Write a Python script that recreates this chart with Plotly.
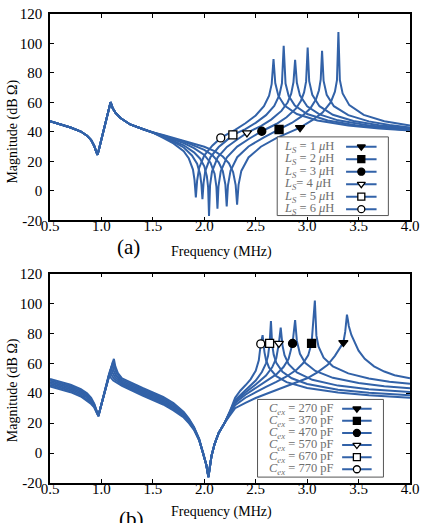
import plotly.graph_objects as go

FONT = "'Liberation Serif', 'Times New Roman', Times, serif"
BLUE = "#3262a8"

# ---------------- axis ticks ----------------
X_TICKS = [0.5, 1.0, 1.5, 2.0, 2.5, 3.0, 3.5, 4.0]
X_TICK_TEXT = ["0.5", "1.0", "1.5", "2.0", "2.5", "3.0", "3.5", "4.0"]
Y_TICKS = [-20, 0, 20, 40, 60, 80, 100, 120]
Y_TICK_TEXT = ["-20", "0", "20", "40", "60", "80", "100", "120"]

# ---------------- panel (a): (frequency MHz, magnitude dB) ----------------
TOP_COMMON = [(0.5, 47.3), (0.6, 45.3), (0.7, 43), (0.8, 40.3), (0.86, 37.5), (0.9, 34.5),
              (0.93, 30.5), (0.95, 26.5), (0.962, 24.5), (0.975, 28), (1.02, 41), (1.06, 52),
              (1.089, 60.2), (1.11, 56), (1.137, 53), (1.185, 49.5), (1.28, 45.1), (1.4, 42),
              (1.5, 39.6)]
LS1 = [(1.6, 38), (1.7, 36), (1.8, 34.3), (1.9, 32.1), (2.0, 30), (2.1, 27), (2.18, 23.4),
       (2.24, 18.7), (2.28, 12.8), (2.305, 4), (2.319, -9.3), (2.333, 4.1), (2.36, 13.6),
       (2.43, 22.7), (2.55, 30), (2.7, 35.8), (2.8, 39), (2.931, 43), (3.05, 48), (3.15, 53.2),
       (3.23, 60.2), (3.27, 67.3), (3.29, 75.1), (3.304, 107.8), (3.318, 75.2), (3.345, 66.1),
       (3.41, 58.2), (3.55, 51.6), (3.75, 47.3), (4.0, 44.4)]
LS2 = [(1.6, 37.6), (1.7, 35.5), (1.8, 33.5), (1.9, 30.8), (2.0, 27.9), (2.08, 24.2), (2.14, 19.5),
       (2.18, 13.5), (2.205, 4.4), (2.218, -10.4), (2.23, 3.7), (2.255, 13.6), (2.32, 22.9),
       (2.43, 30.2), (2.58, 36.4), (2.727, 41.7), (2.85, 46.1), (2.95, 50.7), (3.03, 55.9),
       (3.085, 62), (3.115, 68.3), (3.132, 75.6), (3.145, 95.1), (3.16, 74.6), (3.19, 65.2),
       (3.26, 57.5), (3.4, 51.4), (3.6, 47.2), (3.8, 44.8), (4.0, 43.1)]
LS3 = [(1.6, 37.3), (1.7, 35), (1.8, 32.5), (1.9, 29), (2.0, 24.4), (2.06, 19.2), (2.1, 11.7),
       (2.118, 2.8), (2.128, -12), (2.138, 3.1), (2.16, 13.3), (2.22, 22.9), (2.32, 30.1),
       (2.44, 35.6), (2.559, 40.5), (2.7, 45.4), (2.8, 50), (2.89, 55.8), (2.94, 61.2),
       (2.97, 66.8), (2.99, 74.3), (3.005, 97.3), (3.02, 74.5), (3.05, 65.2), (3.12, 57.5),
       (3.25, 51.7), (3.45, 47.4), (3.7, 44.5), (4.0, 42.3)]
LS4 = [(1.6, 37), (1.7, 34), (1.8, 31), (1.9, 26.2), (1.96, 21.9), (2.0, 16.7), (2.025, 10),
       (2.037, 2.7), (2.046, -17), (2.056, 3.8), (2.075, 13.2), (2.13, 22.8), (2.22, 29.9),
       (2.32, 34.9), (2.415, 39.4), (2.55, 44), (2.65, 48.4), (2.75, 54.3), (2.81, 60),
       (2.845, 66), (2.867, 73.7), (2.883, 88.9), (2.9, 73.4), (2.93, 64.8), (3.0, 57.4),
       (3.12, 51.9), (3.3, 47.9), (3.6, 44.4), (4.0, 41.7)]
LS5 = [(1.6, 36.5), (1.7, 33.3), (1.8, 29.5), (1.88, 24.1), (1.93, 18.5), (1.96, 11.2),
       (1.972, 4.4), (1.982, -5.5), (1.993, 5.5), (2.01, 13.7), (2.06, 23), (2.14, 29.8),
       (2.2, 33.3), (2.278, 38), (2.4, 42), (2.5, 46.2), (2.6, 51.4), (2.68, 57.7), (2.73, 64.9),
       (2.755, 73), (2.772, 98.4), (2.79, 72.8), (2.82, 64.5), (2.88, 57.9), (3.0, 52.2),
       (3.2, 47.8), (3.5, 44.3), (4.0, 41.2)]
LS6 = [(1.6, 36), (1.7, 32.3), (1.8, 27), (1.85, 22), (1.89, 14.5), (1.905, 7.5), (1.918, -4.4),
       (1.93, 6.8), (1.95, 15.6), (2.0, 24.2), (2.08, 30.9), (2.16, 36), (2.3, 41.5), (2.4, 45.9),
       (2.5, 51.2), (2.58, 57.5), (2.63, 64.6), (2.655, 72.4), (2.673, 89.5), (2.69, 73.2),
       (2.72, 64.6), (2.78, 57.9), (2.9, 52.2), (3.1, 47.8), (3.4, 44.4), (3.7, 42.3), (4.0, 41)]
LS_LABELS = ["<i>L<sub>S</sub></i> = 1 <i>μ</i>H", "<i>L<sub>S</sub></i> = 2 <i>μ</i>H",
             "<i>L<sub>S</sub></i> = 3 <i>μ</i>H", "<i>L<sub>S</sub></i>= 4 <i>μ</i>H",
             "<i>L<sub>S</sub></i> = 5 <i>μ</i>H", "<i>L<sub>S</sub></i> = 6 <i>μ</i>H"]
LS_MARK_F = [2.931, 2.727, 2.559, 2.415, 2.278, 2.16]
LS_MARK_DB = [43, 41.7, 40.5, 39.4, 38, 36]

# ---------------- panel (b) ----------------
CEX_DIP = [(1.99, 0), (2.02, -8), (2.04, -16), (2.055, -8), (2.07, -2), (2.1, 6), (2.14, 13.5),
           (2.2, 20.5)]
C270_LOW = [(0.5, 49.5), (0.6, 47.8), (0.7, 45.7), (0.8, 42.8), (0.86, 40), (0.9, 37), (0.93, 33),
            (0.955, 28), (0.971, 25.5), (0.99, 30), (1.03, 40.5), (1.07, 50.5), (1.1, 58),
            (1.121, 63), (1.135, 58), (1.16, 53.5), (1.2, 50), (1.3, 46.5), (1.4, 43.5),
            (1.5, 40.5), (1.6, 37.5), (1.7, 33.5), (1.8, 27.5), (1.85, 23), (1.9, 17.5), (1.95, 9.5)]
C270_HIGH = [(2.25, 25.5), (2.3, 30), (2.4, 33.5), (2.5, 36.8), (2.6, 39.5), (2.7, 42.2),
             (2.8, 44.8), (2.9, 47.3), (3.0, 50), (3.1, 54), (3.2, 59), (3.27, 65), (3.32, 70),
             (3.352, 73.9), (3.37, 81), (3.38, 88), (3.387, 92.6), (3.395, 89.5), (3.405, 85),
             (3.43, 79), (3.46, 74), (3.5, 68.5), (3.56, 63), (3.65, 58), (3.75, 54.5),
             (3.85, 52), (4.0, 50)]
C370_LOW = [(0.5, 48.5), (0.6, 46.8), (0.7, 44.7), (0.8, 41.8), (0.86, 39), (0.9, 36), (0.93, 32.5),
            (0.955, 27.8), (0.971, 25.3), (0.99, 30), (1.03, 40.5), (1.07, 50.5), (1.1, 58),
            (1.113, 61.5), (1.127, 57), (1.15, 53), (1.2, 49), (1.3, 45.5), (1.4, 42.5),
            (1.5, 39.5), (1.6, 36.5), (1.7, 32.5), (1.8, 26.8), (1.85, 22.5), (1.9, 17), (1.95, 9.3)]
C370_HIGH = [(2.25, 26), (2.3, 32), (2.4, 37), (2.5, 40.8), (2.6, 44.2), (2.7, 47.6), (2.8, 51.2),
             (2.9, 55.9), (2.96, 60), (3.01, 65.3), (3.043, 73.3), (3.075, 102), (3.09, 78.5),
             (3.11, 71.3), (3.16, 63.8), (3.25, 58), (3.4, 53.3), (3.6, 49.9), (3.8, 47.7),
             (4.0, 46.3)]
C470_LOW = [(0.5, 47.5), (0.6, 45.8), (0.7, 43.7), (0.8, 40.8), (0.86, 38), (0.9, 35.2), (0.93, 32),
            (0.955, 27.5), (0.971, 25.1), (0.99, 30), (1.03, 40.5), (1.07, 50.5), (1.105, 59.5),
            (1.12, 55), (1.145, 51.5), (1.2, 48), (1.3, 44.5), (1.4, 41.5), (1.5, 38.5),
            (1.6, 35.5), (1.7, 31.5), (1.8, 26), (1.85, 21.8), (1.9, 16.7), (1.95, 9.1)]
C470_HIGH = [(2.25, 26.5), (2.3, 33.5), (2.4, 39), (2.5, 43.4), (2.6, 47.7), (2.7, 52.6),
             (2.77, 57.5), (2.82, 63), (2.858, 73.3), (2.883, 88.9), (2.9, 75), (2.93, 66.4),
             (2.98, 60.4), (3.08, 54.9), (3.25, 50.3), (3.5, 46.9), (3.75, 44.7), (4.0, 43.4)]
C570_LOW = [(0.5, 46.5), (0.6, 44.8), (0.7, 42.7), (0.8, 39.8), (0.86, 37), (0.9, 34.4),
            (0.93, 31.5), (0.955, 27.2), (0.971, 24.9), (0.99, 30), (1.03, 40.5), (1.07, 50.5),
            (1.095, 57.5), (1.11, 53.5), (1.135, 50.5), (1.2, 47), (1.3, 43.5), (1.4, 40.5),
            (1.5, 37.5), (1.6, 34.5), (1.7, 30.5), (1.8, 25.2), (1.85, 21.2), (1.9, 16.3), (1.95, 8.9)]
C570_HIGH = [(2.25, 27), (2.3, 34.5), (2.4, 40.5), (2.5, 45.8), (2.6, 51.8), (2.66, 57.3),
             (2.7, 63.4), (2.725, 73.3), (2.743, 83.8), (2.76, 72), (2.78, 65.5), (2.82, 59.4),
             (2.9, 53.9), (3.05, 49), (3.3, 45.1), (3.6, 42.6), (4.0, 40.8)]
C670_LOW = [(0.5, 45.5), (0.6, 43.8), (0.7, 41.7), (0.8, 38.8), (0.86, 36), (0.9, 33.6), (0.93, 31),
            (0.955, 27), (0.971, 24.7), (0.99, 30), (1.03, 40.5), (1.07, 50.5), (1.085, 55.5),
            (1.1, 52), (1.125, 49.5), (1.2, 46), (1.3, 42.5), (1.4, 39.5), (1.5, 36.5),
            (1.6, 33.5), (1.7, 29.5), (1.8, 24.5), (1.85, 20.6), (1.9, 15.9), (1.95, 8.7)]
C670_HIGH = [(2.25, 27.5), (2.3, 35.5), (2.4, 42), (2.5, 48.5), (2.56, 54.2), (2.6, 60),
             (2.62, 65), (2.635, 73.3), (2.648, 88.2), (2.66, 72.7), (2.675, 65.8), (2.7, 60.4),
             (2.76, 54.3), (2.85, 50), (3.0, 46.2), (3.3, 42.4), (3.6, 40.3), (4.0, 38.6)]
C770_LOW = [(0.5, 44.5), (0.6, 42.8), (0.7, 40.7), (0.8, 37.8), (0.86, 35), (0.9, 32.8),
            (0.93, 30.5), (0.955, 26.8), (0.971, 24.5), (0.99, 30), (1.03, 40.5), (1.06, 48.5),
            (1.075, 53), (1.09, 50.5), (1.115, 48.5), (1.2, 45), (1.3, 41.5), (1.4, 38.5),
            (1.5, 35.5), (1.6, 32.5), (1.7, 28.5), (1.8, 23.8), (1.85, 20), (1.9, 15.5), (1.95, 8.5)]
C770_HIGH = [(2.25, 28), (2.3, 37), (2.35, 41.7), (2.4, 45.3), (2.45, 49.3), (2.5, 55), (2.53, 62),
             (2.549, 73), (2.567, 78.8), (2.585, 67.5), (2.6, 62.3), (2.63, 57.1), (2.7, 51.4),
             (2.8, 47.4), (3.0, 43.5), (3.3, 40.5), (3.6, 38.7), (4.0, 37)]
CEX_LABELS = ["<i>C<sub>ex</sub></i> = 270 pF", "<i>C<sub>ex</sub></i> = 370 pF",
              "<i>C<sub>ex</sub></i> = 470 pF", "<i>C<sub>ex</sub></i> = 570 pF",
              "<i>C<sub>ex</sub></i> = 670 pF", "<i>C<sub>ex</sub></i> = 770 pF"]
CEX_MARK_F = [3.352, 3.043, 2.858, 2.725, 2.635, 2.549]
CEX_MARK_DB = [73.9, 73.3, 73.3, 73.3, 73.3, 73]

# ---------------- styles ----------------
SYMBOLS = ["triangle-down", "square", "circle", "triangle-down", "square", "circle"]
FILLS = ["black", "black", "black", "white", "white", "white"]

W, H = 425, 523
ML, MR, MT, MB = 50, 9, 6, 40
PH = H - MT - MB
PW = W - ML - MR


def py2paper(py):
    return (H - MB - py) / PH


def px2paper(px):
    return (px - ML) / PW


fig = go.Figure()

top_curves = [LS1, LS2, LS3, LS4, LS5, LS6]
for c in top_curves:
    pts = TOP_COMMON + c
    fig.add_trace(go.Scatter(x=[p[0] for p in pts], y=[p[1] for p in pts], mode="lines",
                             line=dict(color=BLUE, width=2), xaxis="x", yaxis="y",
                             showlegend=False, hoverinfo="skip"))
bot_curves = [(C270_LOW, C270_HIGH), (C370_LOW, C370_HIGH), (C470_LOW, C470_HIGH),
              (C570_LOW, C570_HIGH), (C670_LOW, C670_HIGH), (C770_LOW, C770_HIGH)]
for lo, hi in bot_curves:
    pts = lo + CEX_DIP + hi
    fig.add_trace(go.Scatter(x=[p[0] for p in pts], y=[p[1] for p in pts], mode="lines",
                             line=dict(color=BLUE, width=2), xaxis="x2", yaxis="y2",
                             showlegend=False, hoverinfo="skip"))

# markers on curves
for i in range(6):
    fig.add_trace(go.Scatter(x=[LS_MARK_F[i]], y=[LS_MARK_DB[i]], mode="markers",
                             marker=dict(symbol=SYMBOLS[i], size=8, color=FILLS[i],
                                         line=dict(color="black", width=1.3)),
                             xaxis="x", yaxis="y", showlegend=False, hoverinfo="skip"))
    fig.add_trace(go.Scatter(x=[CEX_MARK_F[i]], y=[CEX_MARK_DB[i]], mode="markers",
                             marker=dict(symbol=SYMBOLS[i], size=8, color=FILLS[i],
                                         line=dict(color="black", width=1.3)),
                             xaxis="x2", yaxis="y2", showlegend=False, hoverinfo="skip"))

# ---------------- custom legends (pixel-space overlay axes) ----------------
annotations = []


def add_legend(xa, ya, box, rows, line_x, mark_x, text_x, labels):
    x0, x1, y0, y1 = box
    fig.add_trace(go.Scatter(x=[x0, x1, x1, x0, x0], y=[y0, y0, y1, y1, y0], mode="lines",
                             fill="toself", fillcolor="white",
                             line=dict(color="#555555", width=1), xaxis=xa, yaxis=ya,
                             showlegend=False, hoverinfo="skip"))
    for i, ry in enumerate(rows):
        fig.add_trace(go.Scatter(x=[line_x[0], line_x[1]], y=[ry, ry], mode="lines",
                                 line=dict(color=BLUE, width=2), xaxis=xa, yaxis=ya,
                                 showlegend=False, hoverinfo="skip"))
        fig.add_trace(go.Scatter(x=[mark_x], y=[ry], mode="markers",
                                 marker=dict(symbol=SYMBOLS[i], size=7, color=FILLS[i],
                                             line=dict(color="black", width=1.3)),
                                 xaxis=xa, yaxis=ya, showlegend=False, hoverinfo="skip"))
        annotations.append(dict(x=text_x, y=ry, xref=xa, yref=ya, text=labels[i],
                                showarrow=False, xanchor="left", yanchor="middle",
                                font=dict(family=FONT, size=12.5, color="#6e6e6e")))


add_legend("x3", "y3", (281, 394, 131, 211),
           [141, 153.7, 166.4, 179.1, 191.8, 204.5], (351, 382), 366.5, 286, LS_LABELS)
add_legend("x4", "y4", (261, 389, 398, 477),
           [407.5, 419.8, 432.1, 444.4, 456.7, 469], (347, 377), 362, 271, CEX_LABELS)

# ---------------- axis titles / labels ----------------
for ypx in (126, 389):
    annotations.append(dict(x=px2paper(12), y=py2paper(ypx), xref="paper", yref="paper",
                            text="Magnitude (dB Ω)", textangle=-90, showarrow=False,
                            xanchor="center", yanchor="middle",
                            font=dict(family=FONT, size=14, color="black")))
for ypx in (248, 513):
    annotations.append(dict(x=px2paper(224), y=py2paper(ypx), xref="paper", yref="paper",
                            text="Frequency (MHz)", showarrow=False,
                            xanchor="center", yanchor="middle",
                            font=dict(family=FONT, size=14, color="black")))
annotations.append(dict(x=px2paper(130), y=py2paper(243), xref="paper", yref="paper",
                        text="(a)", showarrow=False, xanchor="center", yanchor="middle",
                        font=dict(family=FONT, size=21, color="black")))
annotations.append(dict(x=px2paper(133), y=py2paper(520), xref="paper", yref="paper",
                        text="(b)", showarrow=False, xanchor="center", yanchor="middle",
                        font=dict(family=FONT, size=21, color="black")))

top_dom = [py2paper(216), py2paper(6)]
bot_dom = [py2paper(483), py2paper(270)]

common_x = dict(range=[0.5, 4.0], tickvals=X_TICKS, ticktext=X_TICK_TEXT, ticks="inside",
                ticklen=4, tickcolor="black", showline=True, linecolor="black", linewidth=1.5,
                mirror="allticks", showgrid=False, zeroline=False, ticklabelstandoff=-9,
                ticklabeloverflow="allow",
                tickfont=dict(family=FONT, size=15, color="black"))
common_y = dict(range=[-20, 120], tickvals=Y_TICKS, ticktext=Y_TICK_TEXT, ticks="inside",
                ticklen=4, tickcolor="black", showline=True, linecolor="black", linewidth=1.5,
                mirror="allticks", showgrid=False, zeroline=False, ticklabelstandoff=3,
                ticklabeloverflow="allow",
                tickfont=dict(family=FONT, size=15, color="black"))

fig.update_layout(
    width=W, height=H,
    margin=dict(l=ML, r=MR, t=MT, b=MB),
    paper_bgcolor="white", plot_bgcolor="white",
    showlegend=False,
    xaxis=dict(domain=[0, 1], anchor="y", **common_x),
    yaxis=dict(domain=top_dom, anchor="x", **common_y),
    xaxis2=dict(domain=[0, 1], anchor="y2", **common_x),
    yaxis2=dict(domain=bot_dom, anchor="x2", **common_y),
    xaxis3=dict(overlaying="x", anchor="y3", range=[50, 416], visible=False),
    yaxis3=dict(overlaying="y", anchor="x3", range=[216, 6], visible=False),
    xaxis4=dict(overlaying="x2", anchor="y4", range=[50, 416], visible=False),
    yaxis4=dict(overlaying="y2", anchor="x4", range=[483, 270], visible=False),
    annotations=annotations,
    font=dict(family=FONT),
)

fig.write_html("out.html")
